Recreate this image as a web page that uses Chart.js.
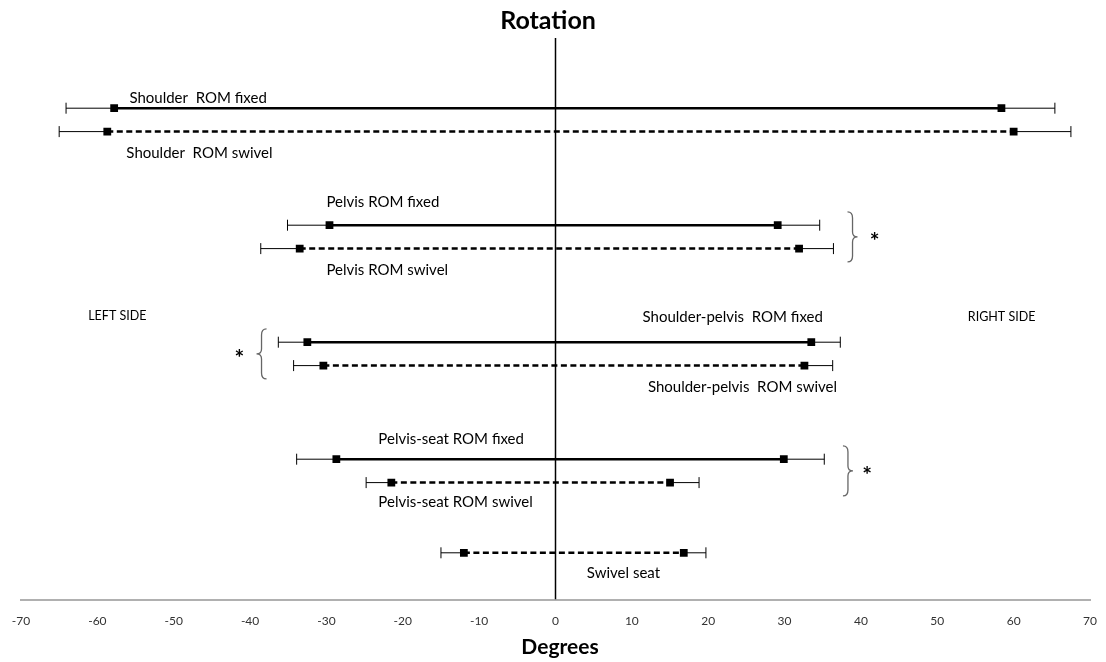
<!DOCTYPE html>
<html>
<head>
<meta charset="utf-8">
<script src="https://cdn.jsdelivr.net/npm/chart.js@4"></script>
<style>
  html, body { margin: 0; padding: 0; background: #fff; }
  #wrap { width: 1106px; height: 662px; }
</style>
</head>
<body>
<div id="wrap"><canvas id="rotChart"></canvas></div>
<script>
// rows (top to bottom)
const rowNames = [
  "Shoulder  ROM fixed", "Shoulder  ROM swivel",
  "Pelvis ROM fixed", "Pelvis ROM swivel",
  "Shoulder-pelvis  ROM fixed", "Shoulder-pelvis  ROM swivel",
  "Pelvis-seat ROM fixed", "Pelvis-seat ROM swivel",
  "Swivel seat"
];
const rowPos = [1, 1.2, 2, 2.2, 3, 3.2, 4, 4.2, 4.8];
const dashed = [false, true, false, true, false, true, false, true, true];

// mean left / right rotation (degrees)
const meanLeft  = [-57.8, -58.7, -29.6, -33.5, -32.5, -30.4, -28.7, -21.5, -12.0];
const meanRight = [58.4, 60.0, 29.1, 31.9, 33.5, 32.6, 29.9, 15.0, 16.8];
// error bar ends
const errLeft  = [-64.1, -65.0, -35.1, -38.6, -36.3, -34.3, -33.9, -24.8, -15.0];
const errRight = [65.4, 67.5, 34.6, 36.4, 37.3, 36.3, 35.2, 18.8, 19.7];

const xTicks = [-70, -60, -50, -40, -30, -20, -10, 0, 10, 20, 30, 40, 50, 60, 70];

const FONT = "Lato, 'Open Sans', sans-serif";

const datasets = [];
rowNames.forEach((name, i) => {
  const y = rowPos[i];
  datasets.push({
    label: name,
    data: [{ x: meanLeft[i], y }, { x: meanRight[i], y }],
    borderColor: "#000",
    backgroundColor: "#000",
    borderWidth: 2.5,
    borderDash: dashed[i] ? [6, 3.5] : [],
    pointStyle: "rect",
    pointRadius: 5.5,
    pointBorderWidth: 0,
    order: 0
  });
  // whiskers: error end -> mean on each side, gap in the middle
  datasets.push({
    label: name + " error",
    data: [
      { x: errLeft[i], y }, { x: meanLeft[i], y },
      { x: 0, y: null },
      { x: meanRight[i], y }, { x: errRight[i], y }
    ],
    spanGaps: false,
    borderColor: "#000",
    borderWidth: 1,
    pointStyle: "line",
    pointRotation: 90,
    pointRadius: [5.5, 0, 0, 0, 5.5],
    pointBorderWidth: 1,
    pointBorderColor: "#000",
    order: 1
  });
});
// zero line
datasets.push({
  label: "zero",
  data: [{ x: 0, y: 0.4 }, { x: 0, y: 5.2 }],
  borderColor: "#000",
  borderWidth: 1.5,
  pointRadius: 0,
  order: 2
});

// text placement: [text, x degrees, y row units]
const labelPlace = [
  ["Shoulder  ROM fixed", -55.8, 0.915],
  ["Shoulder  ROM swivel", -56.2, 1.385],
  ["Pelvis ROM fixed", -30.0, 1.803],
  ["Pelvis ROM swivel", -30.0, 2.385],
  ["Shoulder-pelvis  ROM fixed", 11.4, 2.786],
  ["Shoulder-pelvis  ROM swivel", 12.1, 3.385],
  ["Pelvis-seat ROM fixed", -23.2, 3.829],
  ["Pelvis-seat ROM swivel", -23.2, 4.368],
  ["Swivel seat", 4.1, 4.974]
];
const sidePlace = [["LEFT SIDE", -61.2, 2.778], ["RIGHT SIDE", 54.0, 2.786]];
// braces: x, center row, direction (1 = "}", -1 = "{"), asterisk x
const braces = [
  [38.9, 2.1, 1, 41.8],
  [-38.5, 3.1, -1, -41.4],
  [38.3, 4.1, 1, 40.8]
];

const annotations = {
  id: "annotations",
  afterDatasetsDraw(chart) {
    const { ctx, scales: { x, y } } = chart;
    ctx.save();
    ctx.fillStyle = "#000";
    ctx.textBaseline = "middle";

    // titles
    ctx.textAlign = "center";
    ctx.font = "bold 25px " + FONT;
    ctx.fillText("Rotation", 548, 21);
    ctx.font = "bold 21px " + FONT;
    ctx.fillText("Degrees", 560, 647);

    ctx.textAlign = "left";
    ctx.font = "15px " + FONT;
    labelPlace.forEach(([t, lx, ly]) => {
      ctx.fillText(t, x.getPixelForValue(lx), y.getPixelForValue(ly));
    });
    ctx.font = "12.5px " + FONT;
    sidePlace.forEach(([t, lx, ly]) => {
      ctx.fillText(t, x.getPixelForValue(lx), y.getPixelForValue(ly));
    });

    // curly braces
    ctx.strokeStyle = "#666";
    ctx.lineWidth = 1.3;
    braces.forEach(([bx, by, dir, ax]) => {
      const px = x.getPixelForValue(bx);
      const cy = y.getPixelForValue(by);
      const h = 25, w = 5 * dir;
      ctx.beginPath();
      ctx.moveTo(px - w, cy - h);
      ctx.quadraticCurveTo(px, cy - h, px, cy - h + 6);
      ctx.lineTo(px, cy - 5);
      ctx.quadraticCurveTo(px, cy, px + w, cy);
      ctx.quadraticCurveTo(px, cy, px, cy + 5);
      ctx.lineTo(px, cy + h - 6);
      ctx.quadraticCurveTo(px, cy + h, px - w, cy + h);
      ctx.stroke();

      ctx.font = "bold 23px " + FONT;
      ctx.textAlign = "center";
      ctx.fillText("*", x.getPixelForValue(ax), cy + 5);
      ctx.textAlign = "left";
    });
    ctx.restore();
  }
};

new Chart(document.getElementById("rotChart"), {
  type: "line",
  data: { datasets },
  options: {
    responsive: true,
    maintainAspectRatio: false,
    animation: false,
    layout: { padding: { left: 21, right: 16, top: 38, bottom: 20 } },
    scales: {
      x: {
        type: "linear",
        min: -70,
        max: 70,
        grid: { display: false, drawTicks: false },
        border: { display: true, color: "#b0b0b0", width: 2 },
        afterBuildTicks: (axis) => { axis.ticks = xTicks.map(v => ({ value: v })); },
        afterFit: (axis) => { axis.paddingLeft = 0; axis.paddingRight = 0; },
        ticks: {
          padding: 14,
          color: "#333",
          font: { family: FONT, size: 12 }
        }
      },
      y: {
        type: "linear",
        reverse: true,
        min: 0.4,
        max: 5.2,
        display: false
      }
    },
    plugins: {
      legend: { display: false },
      tooltip: { enabled: false },
      title: { display: false }
    }
  },
  plugins: [annotations]
});
</script>
</body>
</html>
